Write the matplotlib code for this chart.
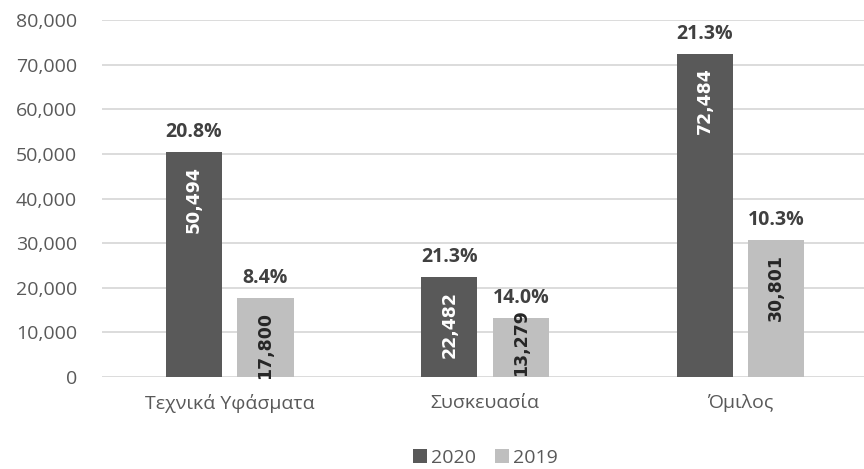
import matplotlib.pyplot as plt
import numpy as np

# Data
categories = ['Τεχνικά Υφάσματα', 'Συσκευασία', 'Όμιλος']
years = ['2020', '2019']
values_2020 = [50494, 22482, 72484]
values_2019 = [17800, 13279, 30801]
pct_2020 = ['20.8%', '21.3%', '21.3%']
pct_2019 = ['8.4%', '14.0%', '10.3%']

colors = ['#595959', '#bfbfbf']
label_colors = ['white', '#262626']

plt.rcParams['font.family'] = ['Open Sans', 'DejaVu Sans']

fig = plt.figure(figsize=(8.64, 4.69), dpi=100)
ax = fig.add_axes([0.118, 0.196, 0.887, 0.761])

x = np.arange(len(categories))
width = 0.22
offset = 0.14

series = [values_2020, values_2019]
pcts = [pct_2020, pct_2019]
for k, (vals, pc) in enumerate(zip(series, pcts)):
    pos = x - offset if k == 0 else x + offset
    bars = ax.bar(pos, vals, width, color=colors[k], label=years[k], zorder=2)
    for bar, v, p in zip(bars, vals, pc):
        cx = bar.get_x() + bar.get_width() / 2
        # percentage above the bar
        ax.annotate(p, (cx, v), xytext=(0, 7), textcoords='offset points',
                    ha='center', va='bottom', fontsize=14, fontweight='bold',
                    color='#404040')
        # value inside the bar, rotated
        txt = f'{v:,}'
        if v > 17000:
            ax.annotate(txt, (cx, v), xytext=(0, -10), textcoords='offset points',
                        ha='center', va='top', rotation=90, fontsize=12.5,
                        fontweight='bold', color=label_colors[k],
                        family='DejaVu Sans')
        else:
            ax.annotate(txt, (cx, 0), xytext=(0, 1), textcoords='offset points',
                        ha='center', va='bottom', rotation=90, fontsize=12.5,
                        fontweight='bold', color=label_colors[k],
                        family='DejaVu Sans')

ax.set_xlim(-0.5, 2.5)
ax.set_ylim(0, 80000)
ax.set_yticks(np.arange(0, 80001, 10000))
ax.yaxis.set_major_formatter(plt.FuncFormatter(lambda v, _: f'{int(v):,}'))
ax.set_xticks(x)
ax.set_xticklabels(categories)
ax.tick_params(axis='both', length=0, labelsize=14, colors='#595959')
ax.tick_params(axis='y', pad=18)
ax.tick_params(axis='x', pad=12)
ax.grid(axis='y', color='#d9d9d9', linewidth=1.3, zorder=0)
ax.set_axisbelow(True)
for s in ax.spines.values():
    s.set_visible(False)

fig.legend(loc='lower center', bbox_to_anchor=(0.562, -0.032), ncol=2, frameon=False,
           fontsize=14, handlelength=0.7, handleheight=0.7, handletextpad=0.2,
           columnspacing=1.0, labelcolor='#595959')

plt.savefig('out.png', dpi=100)
